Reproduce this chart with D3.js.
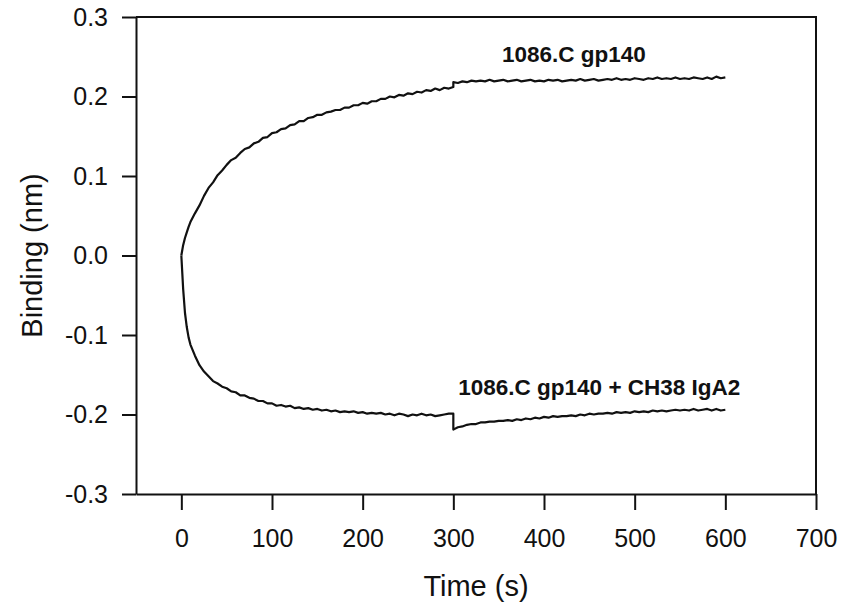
<!DOCTYPE html>
<html>
<head>
<meta charset="utf-8">
<script src="https://cdn.jsdelivr.net/npm/d3@7"></script>
<style>
    body { margin: 0; background: #fff; }
    #viz { width: 844px; height: 605px; }
    text { font-family: "Liberation Sans", Arial, sans-serif; fill: #111; }
    .tick line, .domain { stroke: #111; stroke-width: 2; }
    .trace { fill: none; stroke: #111; stroke-width: 2.2; stroke-linejoin: round; }
    .label { font-weight: bold; font-size: 22.5px; }
</style>
</head>
<body>
<svg id="viz"></svg>
<script>

const viz = d3.select("#viz"),
    width = 844,
    height = 605,
    margin = { top: 17, right: 28, bottom: 111, left: 136 }

// time points (s) -- 300 appears twice for the step at the phase change
const times = [0, 2, 4, 6, 8, 10, 15, 20, 25, 30, 35, 40, 45, 50, 55, 60, 65, 70, 75, 80, 85, 90, 95,
    100, 105, 110, 115, 120, 125, 130, 135, 140, 145, 150, 155, 160, 165, 170, 175, 180, 185, 190, 195,
    200, 205, 210, 215, 220, 225, 230, 235, 240, 245, 250, 255, 260, 265, 270, 275, 280, 285, 290, 295,
    300, 300, 305, 310, 315, 320, 325, 330, 335, 340, 345, 350, 355, 360, 365, 370, 375, 380, 385, 390, 395,
    400, 405, 410, 415, 420, 425, 430, 435, 440, 445, 450, 455, 460, 465, 470, 475, 480, 485, 490, 495,
    500, 505, 510, 515, 520, 525, 530, 535, 540, 545, 550, 555, 560, 565, 570, 575, 580, 585, 590, 595, 600]

// 1086.C gp140
const gp140 = [0.000, 0.013, 0.022, 0.029, 0.036, 0.042, 0.053, 0.063, 0.075, 0.085, 0.092, 0.101, 0.107, 0.114, 0.120, 0.123, 0.129, 0.134, 0.136, 0.141, 0.143, 0.148, 0.149,
    0.154, 0.155, 0.159, 0.160, 0.164, 0.165, 0.169, 0.169, 0.173, 0.174, 0.177, 0.177, 0.180, 0.181, 0.183, 0.183, 0.186, 0.186, 0.189, 0.189,
    0.192, 0.191, 0.194, 0.194, 0.197, 0.197, 0.200, 0.199, 0.202, 0.201, 0.204, 0.203, 0.206, 0.205, 0.208, 0.207, 0.210, 0.208, 0.211, 0.210,
    0.212, 0.218, 0.217, 0.219, 0.218, 0.220, 0.219, 0.220, 0.219, 0.221, 0.219, 0.220, 0.221, 0.219, 0.220, 0.221, 0.219, 0.220, 0.221, 0.219, 0.220,
    0.219, 0.221, 0.220, 0.221, 0.219, 0.220, 0.221, 0.220, 0.222, 0.220, 0.221, 0.222, 0.220, 0.221, 0.222, 0.221, 0.223, 0.221, 0.222, 0.221,
    0.223, 0.222, 0.221, 0.223, 0.222, 0.224, 0.222, 0.223, 0.222, 0.224, 0.222, 0.223, 0.222, 0.224, 0.223, 0.222, 0.224, 0.222, 0.225, 0.223, 0.224]

// 1086.C gp140 + CH38 IgA2
const gp140_iga2 = [0.000, -0.042, -0.072, -0.090, -0.103, -0.112, -0.126, -0.138, -0.146, -0.152, -0.158, -0.161, -0.165, -0.167, -0.171, -0.172, -0.176, -0.176, -0.179, -0.180, -0.183, -0.183, -0.186,
    -0.186, -0.189, -0.188, -0.190, -0.189, -0.192, -0.191, -0.193, -0.192, -0.194, -0.193, -0.195, -0.194, -0.196, -0.195, -0.197, -0.196, -0.197, -0.196, -0.198,
    -0.197, -0.199, -0.198, -0.199, -0.198, -0.200, -0.199, -0.201, -0.199, -0.200, -0.202, -0.200, -0.201, -0.199, -0.201, -0.200, -0.202, -0.201, -0.200, -0.199,
    -0.199, -0.219, -0.216, -0.215, -0.213, -0.212, -0.212, -0.210, -0.210, -0.209, -0.209, -0.208, -0.208, -0.207, -0.208, -0.206, -0.207, -0.205, -0.206, -0.204, -0.205,
    -0.203, -0.204, -0.202, -0.203, -0.202, -0.202, -0.201, -0.202, -0.200, -0.201, -0.199, -0.200, -0.199, -0.199, -0.198, -0.199, -0.197, -0.198, -0.197, -0.198,
    -0.196, -0.197, -0.196, -0.197, -0.195, -0.196, -0.195, -0.196, -0.195, -0.194, -0.195, -0.194, -0.195, -0.193, -0.195, -0.194, -0.193, -0.195, -0.193, -0.195, -0.194]

const xTicks = [0, 100, 200, 300, 400, 500, 600, 700]
const yTicks = [-0.3, -0.2, -0.1, 0.0, 0.1, 0.2, 0.3]

const series = [
    { name: "1086.C gp140", values: gp140, at: [433, 0.243] },
    { name: "1086.C gp140 + CH38 IgA2", values: gp140_iga2, at: [461, -0.176] }
]

var x = d3.scaleLinear()
    .domain([-50, 700])
    .range([margin.left, width - margin.right])

var y = d3.scaleLinear()
    .domain([-0.3, 0.3])
    .range([height - margin.bottom, margin.top])

// plain hyphen for negatives, like the original plot
const fmt = d => d3.format(".1f")(d).replace("\u2212", "-")

viz.attr("width", width).attr("height", height)

// frame (top and right sides)
viz.append("path")
    .attr("class", "domain")
    .attr("fill", "none")
    .attr("d", "M" + x(-50) + "," + y(0.3) + "H" + x(700) + "V" + y(-0.3))

// x axis
viz.append("g")
    .attr("transform", "translate(0," + y(-0.3) + ")")
    .call(d3.axisBottom(x).tickValues(xTicks).tickSize(16).tickSizeOuter(0).tickPadding(19))
    .call(g => g.selectAll("text").style("font-size", "25px").attr("fill", "#111"))

// y axis
viz.append("g")
    .attr("transform", "translate(" + x(-50) + ",0)")
    .call(d3.axisLeft(y).tickValues(yTicks).tickFormat(fmt).tickSize(14).tickSizeOuter(0).tickPadding(14))
    .call(g => g.selectAll("text").style("font-size", "25px").attr("fill", "#111"))

// axis titles
viz.append("text")
    .attr("x", (x(-50) + x(700)) / 2)
    .attr("y", 596)
    .attr("text-anchor", "middle")
    .style("font-size", "29px")
    .text("Time (s)")

viz.append("text")
    .attr("transform", "translate(42," + y(0) + ") rotate(-90)")
    .attr("text-anchor", "middle")
    .style("font-size", "29px")
    .text("Binding (nm)")

// traces
var line = d3.line()
    .x((d, i) => x(times[i]))
    .y(d => y(d))

viz.append("g")
    .selectAll("path")
    .data(series)
    .enter()
    .append("path")
    .attr("class", "trace")
    .attr("d", d => line(d.values))

// trace labels
viz.append("g")
    .selectAll("text")
    .data(series)
    .enter()
    .append("text")
    .attr("class", "label")
    .attr("x", d => x(d.at[0]))
    .attr("y", d => y(d.at[1]))
    .attr("text-anchor", "middle")
    .text(d => d.name)

</script>
</body>
</html>
